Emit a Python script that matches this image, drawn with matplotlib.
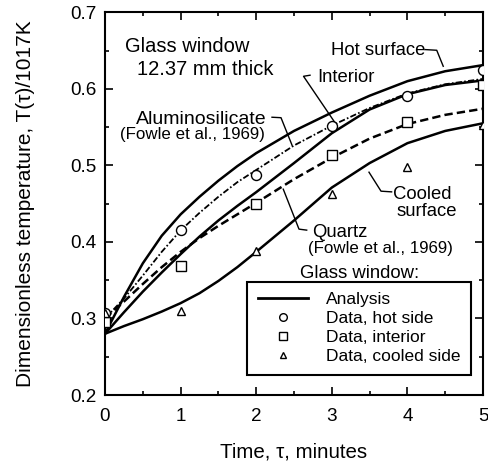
import matplotlib
matplotlib.use("Agg")
import matplotlib.pyplot as plt
from matplotlib.lines import Line2D
from matplotlib.ticker import MultipleLocator, FormatStrFormatter

plt.rcParams['font.family'] = ['Liberation Sans', 'DejaVu Sans']
plt.rcParams['lines.scale_dashes'] = False

# Analysis curves (dimensionless temperature vs time in minutes)
t_curve = [0, 0.25, 0.5, 0.75, 1.0, 1.25, 1.5, 1.75, 2.0, 2.5, 3.0, 3.5, 4.0, 4.5, 5.0]
hot_surface = [0.280, 0.328, 0.372, 0.408, 0.436, 0.459, 0.480, 0.499, 0.516,
               0.545, 0.569, 0.591, 0.610, 0.623, 0.631]
interior = [0.280, 0.308, 0.335, 0.360, 0.384, 0.407, 0.428, 0.447, 0.465,
            0.503, 0.542, 0.573, 0.593, 0.605, 0.611]
cooled_surface = [0.280, 0.290, 0.299, 0.309, 0.320, 0.333, 0.349, 0.367, 0.387,
                  0.428, 0.471, 0.503, 0.529, 0.545, 0.555]
aluminosilicate = [0.300, 0.326, 0.356, 0.387, 0.415, 0.438, 0.459, 0.478, 0.494,
                   0.526, 0.552, 0.575, 0.594, 0.606, 0.613]
quartz = [0.300, 0.322, 0.345, 0.367, 0.387, 0.405, 0.421, 0.436, 0.451,
          0.482, 0.510, 0.535, 0.554, 0.566, 0.574]

# Measured glass window temperatures
t_data = [0, 1, 2, 3, 4, 5]
data_hot = [0.307, 0.415, 0.488, 0.552, 0.591, 0.625]
data_interior = [0.296, 0.369, 0.449, 0.513, 0.557, 0.605]
data_cooled = [0.307, 0.310, 0.388, 0.463, 0.498, 0.553]

x_ticks = [0, 1, 2, 3, 4, 5]
y_ticks = [0.2, 0.3, 0.4, 0.5, 0.6, 0.7]

fig = plt.figure(figsize=(4.88, 4.68), dpi=100)
ax = fig.add_axes([105 / 488, 1 - 395 / 468, 378 / 488, 382.7 / 468])

lw = 1.8
ax.plot(t_curve, hot_surface, color='black', lw=lw)
ax.plot(t_curve, interior, color='black', lw=lw)
ax.plot(t_curve, cooled_surface, color='black', lw=lw)
ax.plot(t_curve, aluminosilicate, color='black', lw=1.3, dashes=(4.5, 1.6, 1.2, 1.6))
ax.plot(t_curve, quartz, color='black', lw=1.8, dashes=(6, 3))

mk = dict(linestyle='none', markerfacecolor='white', markeredgecolor='black',
          markeredgewidth=1.0, zorder=3)
ax.plot(t_data, data_hot, marker='o', markersize=7.2, **mk)
ax.plot(t_data, data_interior, marker='s', markersize=7.2, **mk)
ax.plot(t_data, data_cooled, marker='^', markersize=6.2, **mk)

ax.set_xlim(0, 5)
ax.set_ylim(0.2, 0.7)
ax.set_xticks(x_ticks)
ax.set_yticks(y_ticks)
ax.xaxis.set_minor_locator(MultipleLocator(0.5))
ax.yaxis.set_minor_locator(MultipleLocator(0.05))
ax.yaxis.set_major_formatter(FormatStrFormatter('%.1f'))
ax.tick_params(which='both', direction='in', top=True, right=True, width=1.2,
               labelsize=13.6)
ax.tick_params(which='major', length=5.5)
ax.tick_params(which='minor', length=3)
ax.tick_params(axis='x', pad=9.5)
ax.tick_params(axis='y', pad=6)
for s in ax.spines.values():
    s.set_linewidth(1.5)

ax.set_xlabel('Time, \u03c4, minutes', fontsize=14.8)
ax.set_ylabel('Dimensionless temperature, T(\u03c4)/1017K', fontsize=15)
ax.xaxis.set_label_coords(0.5, -0.123)
ax.yaxis.set_label_coords(-0.185, 0.5)

fs = 13.3
ax.text(0.265, 0.6482, 'Glass window', fontsize=14.5, va='baseline')
ax.text(0.419, 0.6178, '12.37 mm thick', fontsize=14.5, va='baseline')

# Curve labels with leader lines
ax.text(2.985, 0.6439, 'Hot surface', fontsize=fs, va='baseline')
ax.plot([4.233, 4.388, 4.474], [0.6513, 0.6504, 0.6295], color='black', lw=1.0)

ax.text(2.808, 0.609, 'Interior', fontsize=fs, va='baseline')
ax.plot([2.712, 2.626, 3.056], [0.6178, 0.6164, 0.5538], color='black', lw=1.0)

ax.text(1.267, 0.5544, 'Aluminosilicate', fontsize=14, va='baseline', ha='center')
ax.text(1.151, 0.5349, '(Fowle et al., 1969)', fontsize=12.2, va='baseline', ha='center')
ax.plot([2.209, 2.328, 2.474], [0.5629, 0.5623, 0.5264], color='black', lw=1.0)

ax.text(2.734, 0.4070, 'Quartz', fontsize=fs, va='baseline')
ax.text(2.689, 0.3860, '(Fowle et al., 1969)', fontsize=12.2, va='baseline')
ax.plot([2.668, 2.566, 2.358], [0.4154, 0.4167, 0.4689], color='black', lw=1.0)

ax.text(3.813, 0.4565, 'Cooled', fontsize=fs, va='baseline')
ax.text(3.858, 0.4337, 'surface', fontsize=fs, va='baseline')
ax.plot([3.791, 3.651, 3.492], [0.4654, 0.4663, 0.4911], color='black', lw=1.0)

ax.text(2.579, 0.3527, 'Glass window:', fontsize=fs, va='baseline')

handles = [
    Line2D([], [], color='black', lw=2.0),
    Line2D([], [], marker='o', ls='none', ms=5.5, mfc='white', mec='black', mew=1.0),
    Line2D([], [], marker='s', ls='none', ms=5.5, mfc='white', mec='black', mew=1.0),
    Line2D([], [], marker='^', ls='none', ms=5.0, mfc='white', mec='black', mew=1.0),
]
labels = ['Analysis', 'Data, hot side', 'Data, interior', 'Data, cooled side']
leg = ax.legend(handles, labels, loc='upper left', bbox_to_anchor=(0.3765, 0.2961),
                borderaxespad=0, fontsize=12.5, frameon=True, fancybox=False,
                edgecolor='black', framealpha=1, handlelength=2.9,
                handletextpad=1.05, borderpad=0.6, labelspacing=0.22)
leg.get_frame().set_linewidth(1.5)

fig.savefig('out.png', dpi=100)
